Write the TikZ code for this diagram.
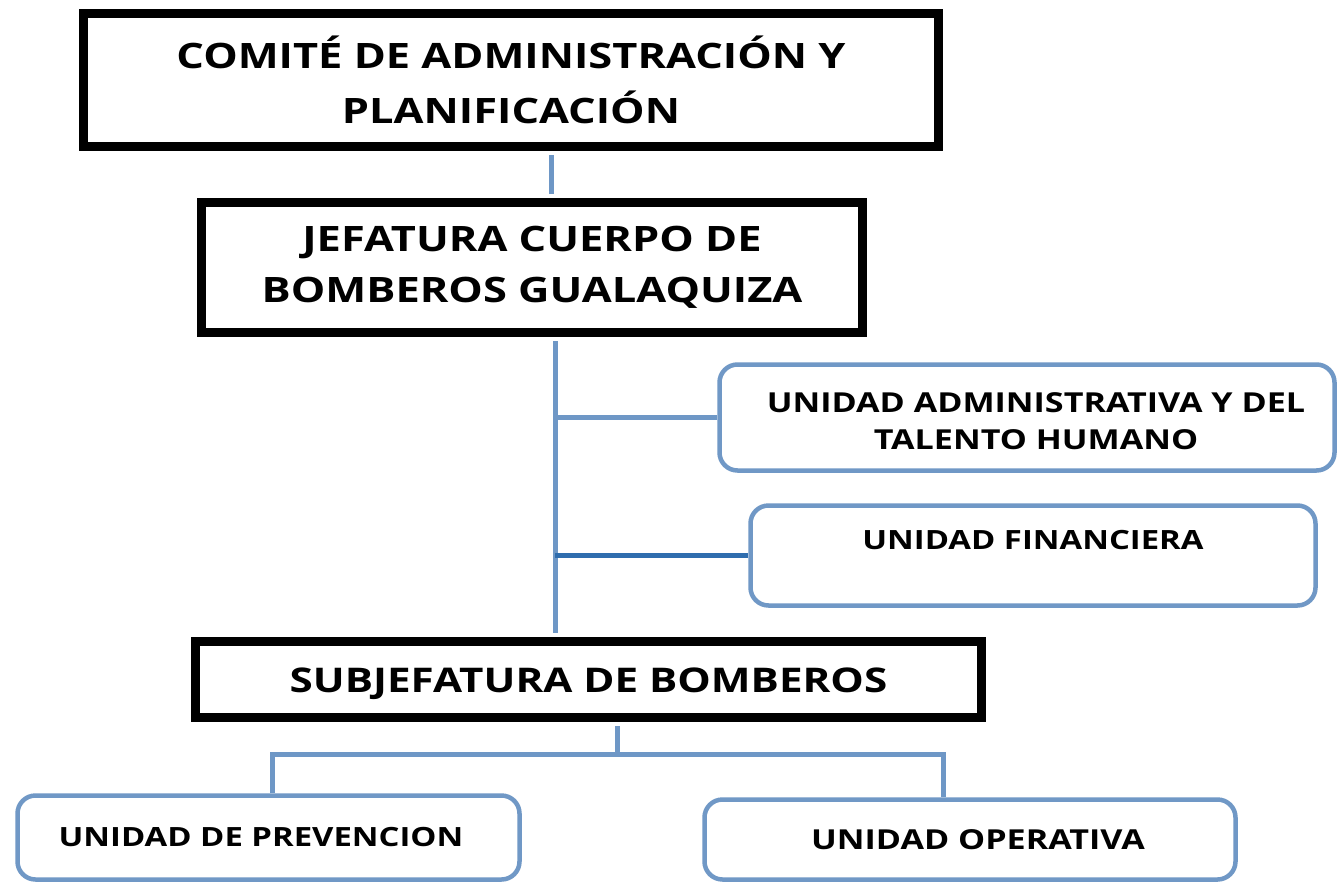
\documentclass[tikz,border=0pt]{standalone}
\usepackage{fontspec}
\setmainfont[FakeStretch=1.24]{Open Sans}
\begin{document}
\begin{tikzpicture}[x=1pt,y=-1pt,
  blackbox/.style={draw=black,line width=9pt,fill=white,align=center,inner sep=0pt,font=\bfseries},
  bluebox/.style={draw=boxblue,line width=4.5pt,rounded corners=18pt,fill=white,align=center,inner sep=0pt,font=\bfseries},
  link/.style={draw=lineblue,line width=5pt},
  darklink/.style={draw=darkblue,line width=5pt}]
\definecolor{boxblue}{HTML}{7098C6}
\definecolor{lineblue}{HTML}{6E97C6}
\definecolor{darkblue}{HTML}{2F6DAE}
\useasboundingbox[fill=white] (0,0) rectangle (1339,884);
% black boxes
\node[blackbox,minimum width=855,minimum height=133,
  font=\bfseries\fontsize{35}{55}\selectfont] (A) at (511,80)
  {COMITÉ DE ADMINISTRACIÓN Y\\PLANIFICACIÓN};
\node[blackbox,minimum width=661,minimum height=130,
  font=\bfseries\fontsize{35}{51}\selectfont] (B) at (532,267.5)
  {JEFATURA CUERPO DE\\BOMBEROS GUALAQUIZA};
\node[blackbox,minimum width=786,minimum height=76,
  font=\bfseries\fontsize{34}{42}\selectfont] (C) at (588.5,679.5)
  {\raisebox{-13pt}[0pt][0pt]{SUBJEFATURA DE BOMBEROS}};
% blue boxes
\node[bluebox,minimum width=615,minimum height=106,
  font=\bfseries\fontsize{27.5}{37}\selectfont] (D) at (1027,417.5)
  {\raisebox{-13pt}[0pt][0pt]{\hspace*{18pt}UNIDAD ADMINISTRATIVA Y DEL}\\\raisebox{-13pt}[0pt][0pt]{\hspace*{18pt}TALENTO HUMANO}};
\node[bluebox,minimum width=565,minimum height=100,
  font=\bfseries\fontsize{26.5}{36}\selectfont] (E) at (1033,555.5)
  {\raisebox{6pt}[0pt][0pt]{UNIDAD FINANCIERA}};
\node[bluebox,minimum width=502,minimum height=84,
  font=\bfseries\fontsize{26.5}{36}\selectfont] (F) at (268.5,837.5)
  {\hspace*{-15pt}UNIDAD DE PREVENCION};
\node[bluebox,minimum width=531,minimum height=80,
  font=\bfseries\fontsize{27.5}{36}\selectfont] (G) at (970,839.5)
  {\hspace*{16pt}UNIDAD OPERATIVA};
% connectors
\draw[link] ([xshift=40pt,yshift=-4pt]A.south) -- ([xshift=19pt,yshift=4pt]B.north);
\coordinate (t) at (555,0);
\draw[link] ([xshift=23pt,yshift=-4pt]B.south) -- ([xshift=-33.5pt,yshift=4pt]C.north);
\draw[link] (D.west) -- (D.west -| t);
\draw[darklink] (E.west) -- (E.west -| t);
\coordinate (h) at (617,754);
\draw[link] ([xshift=28.5pt,yshift=-4pt]C.south) -- (h);
\draw[link] ([xshift=3.5pt]F.north) |- (h) -| ([xshift=-27pt]G.north);
\end{tikzpicture}
\end{document}
